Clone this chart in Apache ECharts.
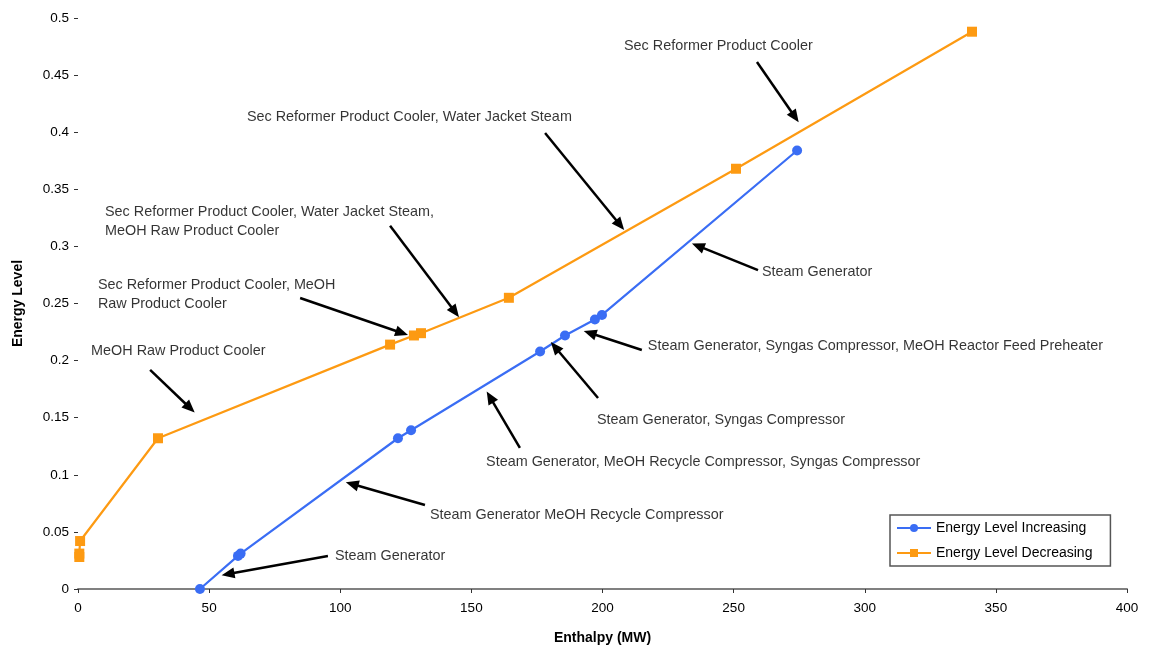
<!DOCTYPE html>
<html>
<head>
<meta charset="utf-8">
<script src="https://cdn.jsdelivr.net/npm/echarts@6/dist/echarts.min.js"></script>
<style>
  html, body { margin: 0; padding: 0; background: #fff; }
  #chart { width: 1152px; height: 652px; }
</style>
</head>
<body>
<div id="chart"></div>
<script>
// Enthalpy (MW) and energy level for heat streams sorted by rising energy level
const increasingEnthalpy = [46.5, 61, 62, 122, 127, 176.2, 185.7, 197.1, 199.8, 274.2];
const increasingLevel    = [0, 0.029, 0.031, 0.132, 0.139, 0.208, 0.222, 0.236, 0.240, 0.384];

// Heat streams sorted by falling energy level
const decreasingEnthalpy = [0.5, 0.5, 0.8, 30.5, 119, 128.1, 130.8, 164.3, 250.9, 340.9];
const decreasingLevel    = [0.028, 0.031, 0.042, 0.132, 0.214, 0.222, 0.224, 0.255, 0.368, 0.488];

// Axis ranges
const xTicks = [0, 50, 100, 150, 200, 250, 300, 350, 400];
const yTicks = [0, 0.05, 0.1, 0.15, 0.2, 0.25, 0.3, 0.35, 0.4, 0.45, 0.5];

// Callout text: text anchor (top-left) and arrow from/to, all in data units
const noteTexts = [
  'Sec Reformer Product Cooler',
  'Sec Reformer Product Cooler, Water Jacket Steam',
  'Sec Reformer Product Cooler, Water Jacket Steam,\nMeOH Raw Product Cooler',
  'Sec Reformer Product Cooler, MeOH\nRaw Product Cooler',
  'MeOH Raw Product Cooler',
  'Steam Generator',
  'Steam Generator, Syngas Compressor, MeOH Reactor Feed Preheater',
  'Steam Generator, Syngas Compressor',
  'Steam Generator, MeOH Recycle Compressor, Syngas Compressor',
  'Steam Generator MeOH Recycle Compressor',
  'Steam Generator'
];
const noteAnchors = [
  [208.2, 0.4834], [64.4, 0.4212], [10.3, 0.338], [7.6, 0.2741], [5.0, 0.2163],
  [260.8, 0.2855], [217.3, 0.2207], [197.9, 0.1567], [155.6, 0.1191],
  [134.2, 0.0727], [98.0, 0.0368]
];
const arrowFrom = [
  [258.9, 0.4615], [178.1, 0.3993], [119.0, 0.318], [84.7, 0.2548], [27.5, 0.1918],
  [259.3, 0.2793], [215.0, 0.2093], [198.3, 0.1673], [168.5, 0.1235],
  [132.3, 0.0736], [95.3, 0.0289]
];
const arrowTo = [
  [273.4, 0.4133], [206.7, 0.3187], [143.8, 0.2426], [123.5, 0.2242], [42.7, 0.1585],
  [236.4, 0.3004], [195.2, 0.2242], [181.9, 0.2119], [157.1, 0.1681],
  [104.5, 0.0919], [57.2, 0.0131]
];

const BLUE = '#3a6df4';
const ORANGE = '#fd9a12';
const FONT = 'Liberation Sans, Arial, sans-serif';

const zip = (xs, ys) => xs.map((x, i) => [x, ys[i]]);

const chart = echarts.init(document.getElementById('chart'), null, { renderer: 'canvas' });

chart.setOption({
  animation: false,
  textStyle: { fontFamily: FONT },
  grid: { left: 78, right: 25, top: 18, bottom: 63, containLabel: false },
  xAxis: {
    type: 'value',
    min: xTicks[0],
    max: xTicks[xTicks.length - 1],
    interval: xTicks[1] - xTicks[0],
    name: 'Enthalpy (MW)',
    nameLocation: 'middle',
    nameGap: 42,
    nameTextStyle: { fontFamily: FONT, fontSize: 14, fontWeight: 'bold', color: '#000' },
    axisLine: { show: true, lineStyle: { color: '#808080', width: 2 } },
    axisTick: { show: true, length: 4, lineStyle: { color: '#333' } },
    axisLabel: { fontFamily: FONT, fontSize: 13.5, color: '#000', margin: 12 },
    splitLine: { show: false }
  },
  yAxis: {
    type: 'value',
    min: yTicks[0],
    max: yTicks[yTicks.length - 1],
    interval: yTicks[1] - yTicks[0],
    name: 'Energy Level',
    nameLocation: 'middle',
    nameGap: 53,
    nameTextStyle: { fontFamily: FONT, fontSize: 14, fontWeight: 'bold', color: '#000' },
    axisLine: { show: false },
    axisTick: { show: true, length: 4, lineStyle: { color: '#333' } },
    axisLabel: { fontFamily: FONT, fontSize: 13.5, color: '#000', margin: 9 },
    splitLine: { show: false }
  },
  legend: {
    orient: 'vertical',
    left: 890,
    top: 515,
    padding: [6, 18, 6, 6],
    itemGap: 11,
    itemWidth: 34,
    itemHeight: 10,
    borderColor: '#555',
    borderWidth: 1.5,
    backgroundColor: '#fff',
    textStyle: { fontFamily: FONT, fontSize: 14, color: '#000' },
    data: ['Energy Level Increasing', 'Energy Level Decreasing']
  },
  series: [
    {
      name: 'Energy Level Increasing',
      type: 'line',
      data: zip(increasingEnthalpy, increasingLevel),
      symbol: 'circle',
      symbolSize: 10,
      color: BLUE,
      lineStyle: { color: BLUE, width: 2.2 },
      itemStyle: { color: BLUE },
      z: 3
    },
    {
      name: 'Energy Level Decreasing',
      type: 'line',
      data: zip(decreasingEnthalpy, decreasingLevel),
      symbol: 'rect',
      symbolSize: 10,
      color: ORANGE,
      lineStyle: { color: ORANGE, width: 2.2 },
      itemStyle: { color: ORANGE },
      z: 3
    },
    {
      // callout text blocks
      name: 'notes',
      type: 'scatter',
      symbolSize: 0,
      silent: true,
      data: noteAnchors.map((p, i) => ({ value: p, name: noteTexts[i] })),
      label: {
        show: true,
        position: [0, 0],
        align: 'left',
        verticalAlign: 'top',
        formatter: (p) => p.name,
        fontFamily: FONT,
        fontSize: 14.4,
        lineHeight: 19,
        color: '#000'
      },
      z: 4
    },
    {
      // callout arrows
      name: 'arrows',
      type: 'line',
      data: [],
      silent: true,
      markLine: {
        silent: true,
        animation: false,
        symbol: ['none', 'triangle'],
        symbolSize: [11, 13],
        label: { show: false },
        lineStyle: { color: '#000', width: 2.5, type: 'solid' },
        emphasis: { disabled: true },
        data: arrowFrom.map((f, i) => [{ coord: f }, { coord: arrowTo[i] }])
      },
      z: 5
    }
  ]
});
</script>
</body>
</html>
